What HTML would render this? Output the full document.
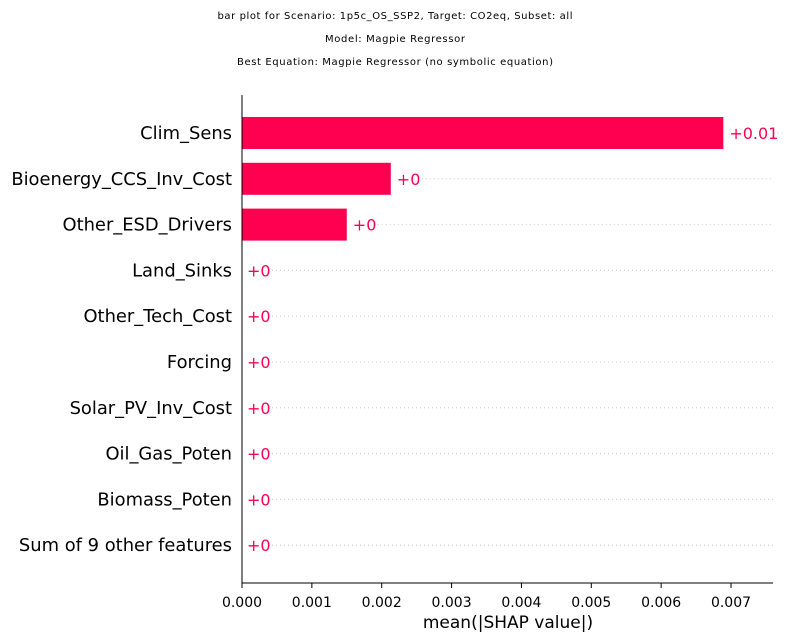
<!DOCTYPE html>
<html><head><meta charset="utf-8"><style>
body{margin:0;background:#fff}
svg{display:block;font-family:"DejaVu Sans","Liberation Sans",sans-serif}
</style></head><body>
<svg id="chart" width="790" height="642">
<text x="395" y="19" font-size="10" textLength="355" text-anchor="middle">bar plot for Scenario: 1p5c_OS_SSP2, Target: CO2eq, Subset: all</text>
<text x="395" y="42" font-size="10" textLength="140" text-anchor="middle">Model: Magpie Regressor</text>
<text x="395" y="65" font-size="10" textLength="316" text-anchor="middle">Best Equation: Magpie Regressor (no symbolic equation)</text>
<g id="plot"></g>
<text x="508" y="628" font-size="17" text-anchor="middle">mean(|SHAP value|)</text>
</svg>
<script>
const features=["Clim_Sens","Bioenergy_CCS_Inv_Cost","Other_ESD_Drivers","Land_Sinks","Other_Tech_Cost","Forcing","Solar_PV_Inv_Cost","Oil_Gas_Poten","Biomass_Poten","Sum of 9 other features"];
const values=[0.00689,0.00213,0.0015,0,0,0,0,0,0,0];
const valueLabels=["+0.01","+0","+0","+0","+0","+0","+0","+0","+0","+0"];
const ticks=[0,0.001,0.002,0.003,0.004,0.005,0.006,0.007];
const tickLabels=["0.000","0.001","0.002","0.003","0.004","0.005","0.006","0.007"];
const NS="http://www.w3.org/2000/svg";
const g=document.getElementById('plot');
const x0=242,xEnd=773,yTop=95,yBot=583;
const xs=v=>x0+v*(731-x0)/0.007;
const ys=i=>133+i*45.8;
function mk(t,a,p){const e=document.createElementNS(NS,t);for(const k in a)e.setAttribute(k,a[k]);(p||g).appendChild(e);return e;}
features.forEach((f,i)=>{
  const y=ys(i);
  const lx=xs(values[i])+(values[i]>0?6:5);
  const tw=valueLabels[i].length*9.5+6;
  const dl=mk('line',{x1:lx+tw,x2:xEnd,y1:y,y2:y,stroke:'#ccc','stroke-width':1,'stroke-dasharray':'1,3'});
  
  
  if(values[i]>0){
    const r=mk('rect',{x:x0,y:y-16,width:xs(values[i])-x0,height:32,fill:'#ff0051'});
    
    
  }
  const vt=mk('text',{x:lx,y:y+6,'font-size':16,fill:'#ff0051'});vt.textContent=valueLabels[i];
  
  
  const ft=mk('text',{x:232,y:y+6,'font-size':17.9,'text-anchor':'end'});ft.textContent=f;
  
  
});
const ax=mk('line',{x1:x0,x2:x0,y1:yTop,y2:yBot,stroke:'#000','stroke-width':1});


const bx=mk('line',{x1:x0,x2:xEnd,y1:yBot,y2:yBot,stroke:'#000','stroke-width':1});


ticks.forEach((t,i)=>{
  const x=xs(t);
  const tl=mk('line',{x1:x,x2:x,y1:yBot,y2:yBot+5,stroke:'#000'});
  
  
  const tt=mk('text',{x:x,y:yBot+24,'font-size':14,'text-anchor':'middle'});tt.textContent=tickLabels[i];
  
  
});
</script>
</body></html>
